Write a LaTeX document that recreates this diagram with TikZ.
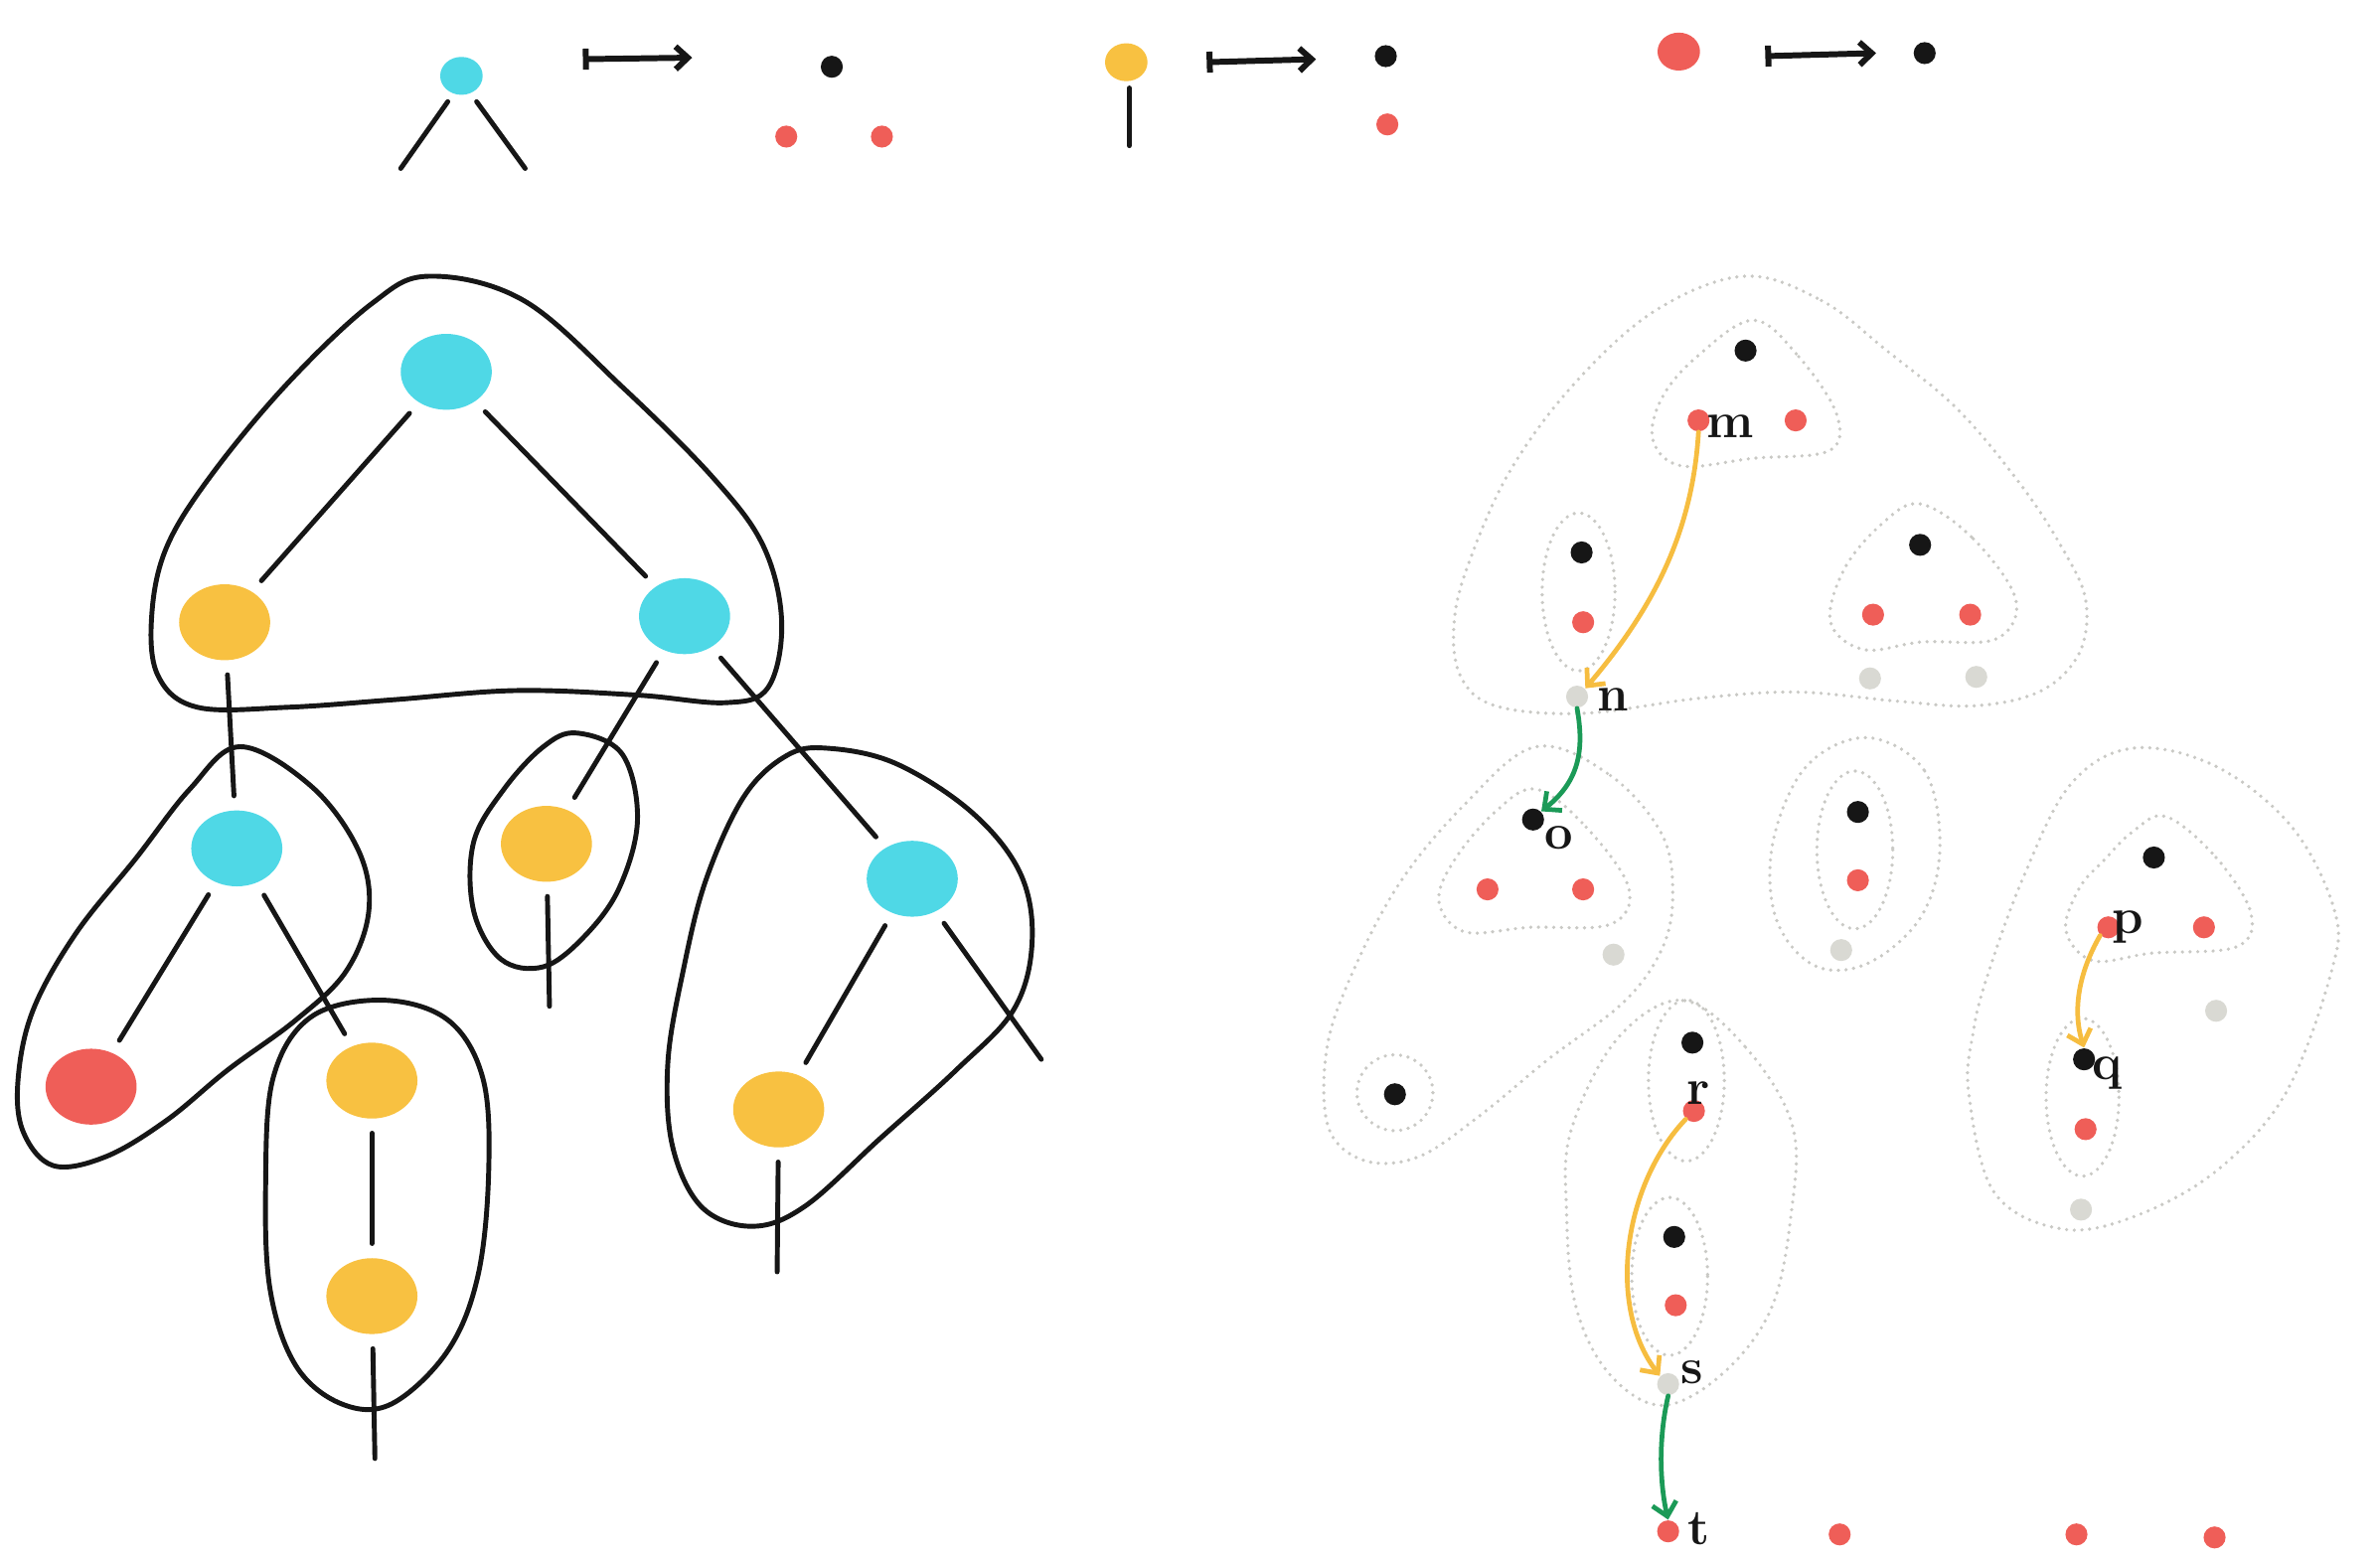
\documentclass[tikz,border=0pt]{standalone}
\usetikzlibrary{shapes.geometric,arrows.meta}
\definecolor{cyanb}{HTML}{4FD8E6}
\definecolor{yel}{HTML}{F8C141}
\definecolor{redd}{HTML}{EF5E58}
\definecolor{ink}{HTML}{161616}
\definecolor{ghost}{HTML}{D9D9D3}
\definecolor{dotline}{HTML}{C9C9C5}
\definecolor{grn}{HTML}{1B9A57}
\definecolor{yarrow}{HTML}{F6BD40}
\def\uu{0.015274cm}
\begin{document}
\begin{tikzpicture}[x=0.015274cm, y=-0.015274cm,
  big/.style={ellipse, inner sep=0pt, minimum width=60*\uu, minimum height=50*\uu, fill=#1},
  small/.style={ellipse, inner sep=0pt, minimum width=28*\uu, minimum height=25*\uu, fill=#1},
  dot/.style={circle, inner sep=0pt, minimum size=14.5*\uu, fill=#1},
  stroke/.style={draw=ink, line width=1.4pt, line cap=round},
  treeline/.style={stroke, shorten <=4pt, shorten >=4pt},
  hull/.style={draw=ink, line width=1.4pt, line join=round},
  dothull/.style={draw=dotline, line width=1.05pt, line cap=round, dash pattern=on 0pt off 2.2pt},
  mapsto/.style={draw=ink, line width=1.7pt, {Bar[width=6pt]}-{Straight Barb[length=3.5pt,width=6.5pt]}},
  flow/.style={line width=1.35pt, line cap=round, -{Straight Barb[length=3.8pt,width=7pt]}},
  lbl/.style={text=ink, font=\bfseries\Large, inner sep=0pt}]
\useasboundingbox (0,0) rectangle (1568,1028);

% ---------- rules at the top ----------
\node[small=cyanb] (lc) at (304,50) {};
\coordinate (lc1) at (264,111);
\coordinate (lc2) at (346,111);
\draw[stroke] (295,67) -- (lc1);
\draw[stroke] (314,67) -- (lc2);
\coordinate (a1s) at (384,39); \coordinate (a1e) at (456,38);
\draw[mapsto] (a1s) -- (a1e);
\node[dot=ink] (lcb) at (548,44) {};
\node[dot=redd] (lcr1) at (518,90) {};
\node[dot=redd] (lcr2) at (581,90) {};

\node[small=yel] (ly) at (742,41) {};
\coordinate (ly0) at (744,58);
\coordinate (ly1) at (744,96);
\draw[stroke] (ly0) -- (ly1);
\coordinate (a2s) at (795,41); \coordinate (a2e) at (867,39);
\draw[mapsto] (a2s) -- (a2e);
\node[dot=ink] (lyb) at (913,37) {};
\node[dot=redd] (lyr) at (914,82) {};

\node[small=redd] (lr) at (1106,34) {};
\coordinate (a3s) at (1163,37); \coordinate (a3e) at (1236,35);
\draw[mapsto] (a3s) -- (a3e);
\node[dot=ink] (lrb) at (1268,35) {};

% ---------- the tree ----------
\node[big=cyanb] (A) at (294,245) {};
\node[big=yel]   (B) at (148,410) {};
\node[big=cyanb] (C) at (451,406) {};
\node[big=cyanb] (D) at (156,559) {};
\node[big=yel]   (E) at (360,556) {};
\node[big=cyanb] (F) at (601,579) {};
\node[big=redd]  (G) at (60,716) {};
\node[big=yel]   (H) at (245,712) {};
\node[big=yel]   (I) at (513,731) {};
\node[big=yel]   (J) at (245,854) {};
\coordinate (Eend) at (362,663);
\coordinate (Fend) at (686,698);
\coordinate (Iend) at (512,838);
\coordinate (Jend) at (247,961);

\draw[treeline] (A) -- (B);
\draw[treeline] (A) -- (C);
\draw[treeline] (B) -- (D);
\draw[treeline] (C) -- (E);
\draw[treeline] (C) -- (F);
\draw[treeline] (D) -- (G);
\draw[treeline] (D) -- (H);
\draw[treeline] (H) -- (J);
\draw[treeline] (F) -- (I);
\draw[treeline, shorten >=0pt] (E) -- (Eend);
\draw[treeline, shorten >=0pt] (F) -- (Fend);
\draw[treeline, shorten >=0pt] (I) -- (Iend);
\draw[treeline, shorten >=0pt] (J) -- (Jend);

% outlines round the groups
\draw[hull] plot[smooth cycle, tension=0.6] coordinates {(283,182) (345,198) (410,255) (470,315) (503,360) (515,410) (506,453) (478,463) (420,458) (340,455) (260,461) (190,466) (130,466) (104,445) (100,405) (110,360) (140,312) (190,252) (245,200)};
\draw[hull] plot[smooth cycle, tension=0.6] coordinates {(158,492) (205,518) (236,560) (243,600) (228,640) (195,672) (150,705) (110,738) (70,762) (35,768) (15,745) (12,710) (22,665) (50,615) (90,565) (125,520)};
\draw[hull] plot[smooth cycle, tension=0.6] coordinates {(252,659) (295,672) (318,710) (322,770) (315,840) (295,890) (258,925) (225,925) (195,900) (178,850) (175,780) (180,710) (205,670)};
\draw[hull] plot[smooth cycle, tension=0.6] coordinates {(380,483) (410,497) (420,540) (408,585) (385,617) (358,637) (330,632) (312,600) (312,555) (332,520) (358,492)};
\draw[hull] plot[smooth cycle, tension=0.6] coordinates {(545,493) (590,503) (640,535) (672,575) (680,620) (668,665) (630,705) (580,750) (530,795) (495,808) (462,795) (443,755) (440,700) (450,640) (465,580) (490,525) (518,498)};

% ---------- dotted groups ----------
\draw[dothull] plot[smooth cycle, tension=0.6] coordinates {(1149,182) (1200,198) (1243,231) (1290,270) (1331,319) (1358,360) (1374,395) (1370,430) (1345,455) (1302,465) (1250,462) (1184,456) (1120,460) (1043,470) (985,465) (962,445) (958,410) (968,370) (995,310) (1037,253) (1090,205)};
\draw[dothull] plot[smooth cycle, tension=0.6] coordinates {(1155,211) (1185,235) (1210,273) (1205,297) (1155,302) (1108,307) (1089,290) (1095,262) (1118,235)};
\draw[dothull] (1040,390) ellipse [x radius=24, y radius=52];
\draw[dothull] plot[smooth cycle, tension=0.6] coordinates {(1265,332) (1300,355) (1328,395) (1315,421) (1266,423) (1228,428) (1206,410) (1215,375) (1240,345)};

\draw[dothull] plot[smooth cycle, tension=0.6] coordinates {(1012,492) (1061,511) (1095,550) (1102,590) (1095,625) (1070,660) (1020,698) (975,735) (935,762) (900,765) (876,745) (873,700) (885,655) (920,585) (965,530)};
\draw[dothull] plot[smooth cycle, tension=0.6] coordinates {(1012,520) (1045,545) (1073,585) (1061,609) (1008,611) (965,614) (948,594) (958,567) (985,535)};
\draw[dothull] (919,720) circle [radius=25];

\draw[dothull] plot[smooth cycle, tension=0.6] coordinates {(1230,486) (1268,508) (1278,560) (1265,605) (1230,635) (1195,636) (1170,605) (1168,555) (1190,505)};
\draw[dothull] (1222,560) ellipse [x radius=25, y radius=52];

\draw[dothull] plot[smooth cycle, tension=0.6] coordinates {(1108,659) (1150,690) (1181,742) (1180,800) (1167,862) (1135,905) (1095,926) (1060,905) (1038,860) (1032,797) (1035,745) (1065,685)};
\draw[dothull] (1111,712) ellipse [x radius=25, y radius=53];
\draw[dothull] (1100,841) ellipse [x radius=25, y radius=52];

\draw[dothull] plot[smooth cycle, tension=0.6] coordinates {(1405,493) (1460,505) (1510,545) (1538,600) (1536,640) (1506,720) (1462,770) (1410,800) (1360,810) (1314,786) (1297,720) (1300,680) (1309,644) (1333,578) (1364,517)};
\draw[dothull] plot[smooth cycle, tension=0.6] coordinates {(1427,538) (1460,565) (1483,602) (1473,624) (1418,628) (1379,633) (1361,613) (1370,585) (1386,567) (1405,548)};
\draw[dothull] (1372,723) ellipse [x radius=24, y radius=52];

% ---------- points ----------
\node[dot=ink]   (k1) at (1150,231) {};
\node[dot=redd]  (m)  at (1119,277) {};
\node[dot=redd]  (k2) at (1183,277) {};
\node[dot=ink]   (k3) at (1042,364) {};
\node[dot=redd]  (k4) at (1043,410) {};
\node[dot=ink]   (k5) at (1265,359) {};
\node[dot=redd]  (k6) at (1234,405) {};
\node[dot=redd]  (k7) at (1298,405) {};
\node[dot=ghost] (k8) at (1232,447) {};
\node[dot=ghost] (k9) at (1302,446) {};
\node[dot=ghost] (n)  at (1039,459) {};
\node[dot=ink]   (o)  at (1010,540) {};
\node[dot=redd]  (k10) at (980,586) {};
\node[dot=redd]  (k11) at (1043,586) {};
\node[dot=ghost] (k12) at (1063,629) {};
\node[dot=ink]   (k13) at (1224,535) {};
\node[dot=redd]  (k14) at (1224,580) {};
\node[dot=ghost] (k15) at (1213,626) {};
\node[dot=ink]   (k16) at (1419,565) {};
\node[dot=redd]  (p)   at (1389,611) {};
\node[dot=redd]  (k17) at (1452,611) {};
\node[dot=ghost] (k18) at (1460,666) {};
\node[dot=ink]   (q)   at (1373,698) {};
\node[dot=redd]  (k19) at (1374,744) {};
\node[dot=ghost] (k20) at (1371,797) {};
\node[dot=ink]   (k21) at (919,721) {};
\node[dot=ink]   (k22) at (1115,687) {};
\node[dot=redd]  (r)   at (1116,732) {};
\node[dot=ink]   (k23) at (1103,815) {};
\node[dot=redd]  (k24) at (1104,860) {};
\node[dot=ghost] (s)   at (1099,912) {};
\node[dot=redd]  (t)   at (1099,1009) {};
\node[dot=redd]  (k25) at (1212,1011) {};
\node[dot=redd]  (k26) at (1368,1011) {};
\node[dot=redd]  (k27) at (1459,1013) {};

% ---------- labels ----------
\node[lbl] (lm) at (1140,281) {m};
\node[lbl] (ln) at (1063,461) {n};
\node[lbl] (lo) at (1027,552) {o};
\node[lbl] (lrr) at (1119,720) {r};
\node[lbl] (ls) at (1115,904) {s};
\node[lbl] (lt) at (1119,1007) {t};
\node[lbl] (lp) at (1402,611) {p};
\node[lbl] (lq) at (1388,707) {q};

% ---------- moves ----------
\draw[flow, yarrow] (m.south) .. controls (1115,350) and (1090,400) .. (n.north east);
\draw[flow, grn] (n.south) .. controls (1044,495) and (1040,515) .. (o.north east);
\draw[flow, yarrow] (r.south west) .. controls (1070,780) and (1058,860) .. (s.north west);
\draw[flow, grn] (s.south) .. controls (1092,950) and (1094,980) .. (t.north);
\draw[flow, yarrow] (p.south west) .. controls (1370,640) and (1365,665) .. (q.north);
\end{tikzpicture}
\end{document}
